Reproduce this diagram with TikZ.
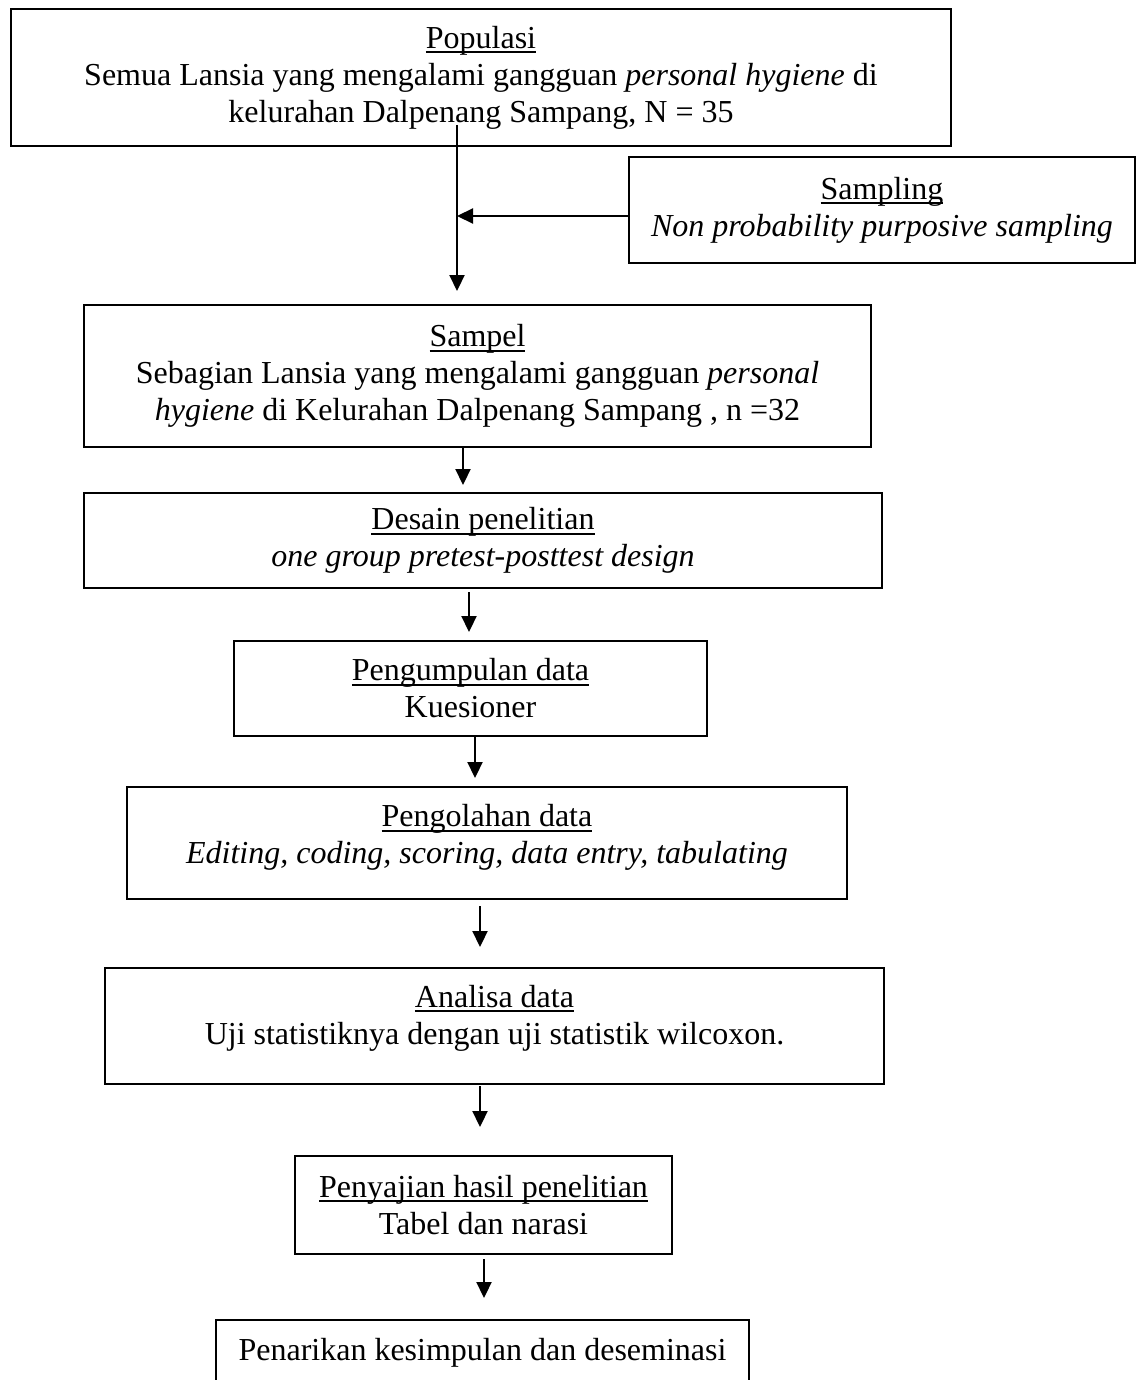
\documentclass[tikz,border=0pt]{standalone}
\usepackage{fontspec}
\setmainfont{Liberation Serif}
\usetikzlibrary{arrows.meta}
\newsavebox{\ttlbox}
\newcommand{\ttl}[1]{\sbox{\ttlbox}{#1}\usebox{\ttlbox}\llap{\rule[-5pt]{\wd\ttlbox}{2pt}}}
\begin{document}
\begin{tikzpicture}[x=1pt,y=-1pt,
  box/.style={draw, line width=2pt, align=center, inner sep=0pt,
    font={\fontsize{32}{37}\selectfont}},
  arr/.style={line width=2.2pt, -{Triangle[length=16pt,width=15pt]}}]
\useasboundingbox (0,0) rectangle (1138,1380);
\clip (0,0) rectangle (1138,1380);

\node[box, minimum width=940pt, minimum height=137pt] (pop) at (481,77.5)
  {\ttl{Populasi}\\Semua Lansia yang mengalami gangguan \textit{personal hygiene} di\\kelurahan Dalpenang Sampang, N = 35};
\node[box, minimum width=506pt, minimum height=106pt] (samp) at (882,210)
  {\ttl{Sampling}\\\textit{Non probability purposive sampling}};
\node[box, minimum width=787pt, minimum height=142pt] (sampel) at (477.5,376)
  {\ttl{Sampel}\\Sebagian Lansia yang mengalami gangguan \textit{personal}\\\textit{hygiene} di Kelurahan Dalpenang Sampang , n =32};
\node[box, minimum width=798pt, minimum height=95pt] (desain) at (483,540.5)
  {\ttl{Desain penelitian}\\\textit{one group pretest-posttest design}};
\node[box, minimum width=473pt, minimum height=95pt] (kumpul) at (470.5,688.5)
  {\ttl{Pengumpulan data}\\Kuesioner};
\node[box, minimum width=720pt, minimum height=112pt, text depth=18pt] (olah) at (487,843)
  {\ttl{Pengolahan data}\\\textit{Editing, coding, scoring, data entry, tabulating}};
\node[box, minimum width=779pt, minimum height=116pt, text depth=23pt] (analisa) at (494.5,1026)
  {\ttl{Analisa data}\\Uji statistiknya dengan uji statistik wilcoxon.};
\node[box, minimum width=377pt, minimum height=98pt] (saji) at (483.5,1205)
  {\ttl{Penyajian hasil penelitian}\\Tabel dan narasi};
\node[box, minimum width=533pt, minimum height=65pt] (tarik) at (482.5,1352.5)
  {Penarikan kesimpulan dan deseminasi};

% connectors
\coordinate (c0) at (457,125);
\coordinate (c1) at (457,291);
\coordinate (j) at (457,216);
\draw[arr] (c0) -- (c1);
\draw[arr] (samp.west |- j) -- (j);

\coordinate (e1) at (463,485);
\draw[arr] (sampel.south -| e1) -- (e1);
\coordinate (e2) at (469,632);
\draw[arr, shorten <=3pt] (desain.south -| e2) -- (e2);
\coordinate (e3) at (475,778);
\draw[arr] (kumpul.south -| e3) -- (e3);
\coordinate (e4) at (480,947);
\draw[arr, shorten <=6pt] (olah.south -| e4) -- (e4);
\coordinate (e5) at (480,1127);
\draw[arr, shorten <=1pt] (analisa.south -| e5) -- (e5);
\coordinate (e6) at (484,1298);
\draw[arr, shorten <=4pt] (saji.south -| e6) -- (e6);
\end{tikzpicture}
\end{document}
